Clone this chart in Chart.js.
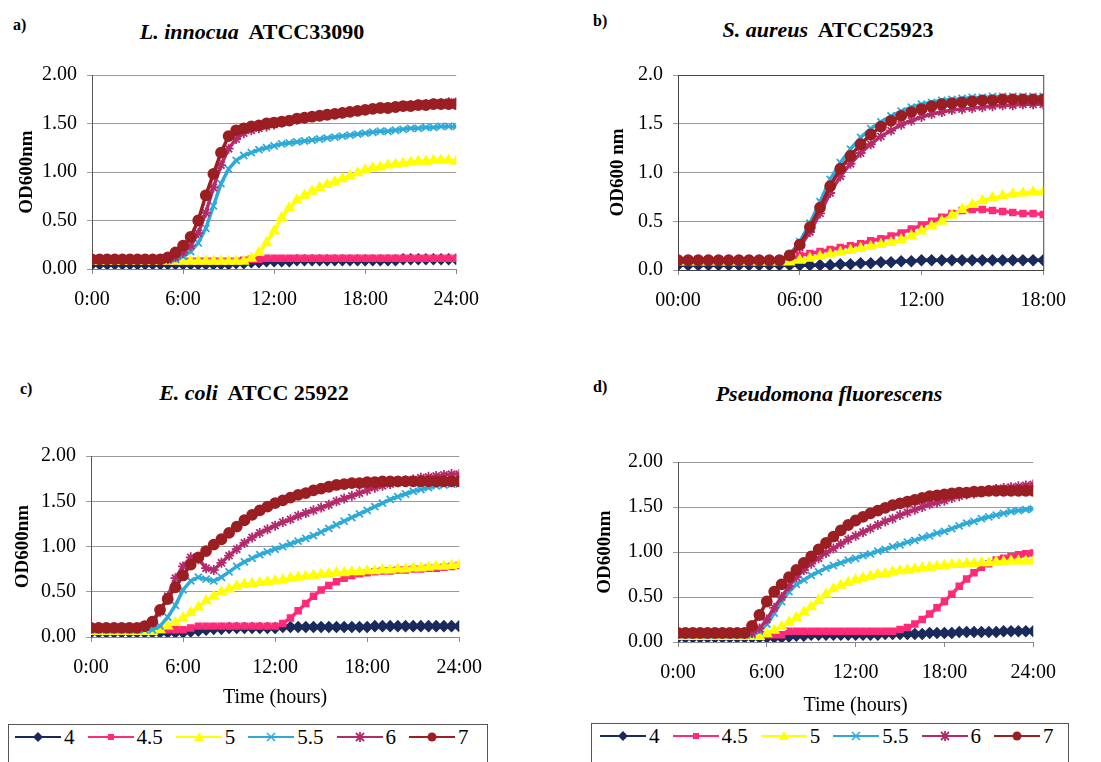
<!DOCTYPE html>
<html>
<head>
<meta charset="utf-8">
<script src="https://cdn.jsdelivr.net/npm/chart.js@4.4.1/dist/chart.umd.min.js"></script>
<style>
  html, body { margin: 0; padding: 0; background: #fff; }
  #page { position: relative; width: 1101px; height: 762px; overflow: hidden; font-family: 'Liberation Serif', 'Times New Roman', serif; color: #000; }
  canvas { position: absolute; }
  .tag { position: absolute; font-weight: bold; font-size: 16px; }
  .ttl { position: absolute; font-weight: bold; font-size: 22px; transform: translateX(-50%); white-space: nowrap; }
  .legend { position: absolute; height: 50px; border: 1px solid #555; border-bottom: none; display: flex; align-items: flex-start;
            font-family: 'Liberation Serif', 'Times New Roman', serif; font-size: 21px; line-height: 22px; padding-top: 1px; box-sizing: border-box; }
  .legend .item { display: flex; align-items: center; height: 22px; margin-right: 13px; }
  .legend svg { margin-right: 3px; }
</style>
</head>
<body>
<div id="page">
  <div class="tag" style="left:13px; top:16px;">a)</div>
  <div class="ttl" style="left:252px; top:19px;"><i>L. innocua</i>&nbsp; ATCC33090</div>
  <div class="tag" style="left:593px; top:12px;">b)</div>
  <div class="ttl" style="left:828px; top:17px;"><i>S. aureus</i>&nbsp; ATCC25923</div>
  <div class="tag" style="left:20px; top:380px;">c)</div>
  <div class="ttl" style="left:254px; top:380px;"><i>E. coli</i>&nbsp; ATCC 25922</div>
  <div class="tag" style="left:593px; top:378px;">d)</div>
  <div class="ttl" style="left:829px; top:381px;"><i>Pseudomona fluorescens</i></div>

  <canvas id="chartA" width="493" height="261" style="left:0px; top:53px;"></canvas>
  <canvas id="chartB" width="494" height="262" style="left:586px; top:53px;"></canvas>
  <canvas id="chartC" width="497" height="281" style="left:-1px; top:434px;"></canvas>
  <canvas id="chartD" width="484" height="280" style="left:586px; top:440px;"></canvas>

  <div class="legend" id="legendC" style="left:8px; top:724px; width:480px; padding-left:6px;"></div>
  <div class="legend" id="legendD" style="left:591px; top:723px; width:478px; padding-left:8px;"></div>
</div>

<script>
// pH of the growth medium, one series per pH.
const phLabels = ['4', '4.5', '5', '5.5', '6', '7'];
const phColours = ['#1B2A5C', '#FF2A78', '#FFFF00', '#2EAAD8', '#B32B6C', '#9A1E22'];
const phMarkers = ['rectRot', 'rect', 'triangle', 'crossRot', 'star', 'circle'];

// Sampling times (hours).
const hours24 = [0, 0.5, 1, 1.5, 2, 2.5, 3, 3.5, 4, 4.5, 5, 5.5, 6, 6.5, 7, 7.5, 8, 8.5, 9, 9.5,
  10, 10.5, 11, 11.5, 12, 12.5, 13, 13.5, 14, 14.5, 15, 15.5, 16, 16.5, 17, 17.5, 18, 18.5, 19, 19.5,
  20, 20.5, 21, 21.5, 22, 22.5, 23, 23.5, 24];
const hours18 = [0, 0.5, 1, 1.5, 2, 2.5, 3, 3.5, 4, 4.5, 5, 5.5, 6, 6.5, 7, 7.5, 8, 8.5, 9, 9.5,
  10, 10.5, 11, 11.5, 12, 12.5, 13, 13.5, 14, 14.5, 15, 15.5, 16, 16.5, 17, 17.5, 18];

// Tick labels.
const ticks24 = ['0:00', '6:00', '12:00', '18:00', '24:00'];
const ticks18 = ['00:00', '06:00', '12:00', '18:00'];

// a) L. innocua ATCC33090
const a4 = [0.05, 0.05, 0.05, 0.05, 0.05, 0.05, 0.05, 0.05, 0.05, 0.05, 0.05, 0.05, 0.05, 0.05, 0.05, 0.05, 0.05, 0.05, 0.05,
  0.06, 0.06, 0.07, 0.07, 0.08, 0.08, 0.08, 0.08, 0.09, 0.09, 0.09, 0.09,
  0.09, 0.09, 0.09, 0.09, 0.09, 0.09, 0.09, 0.09, 0.09, 0.09, 0.10, 0.10, 0.10, 0.10, 0.10, 0.10, 0.10, 0.10];
const a45 = [0.08, 0.08, 0.08, 0.08, 0.08, 0.08, 0.08, 0.08, 0.08, 0.08, 0.08, 0.08, 0.08, 0.08, 0.08, 0.08, 0.08, 0.08, 0.08, 0.08,
  0.09, 0.10, 0.10, 0.11, 0.11, 0.11, 0.11, 0.11, 0.11, 0.11, 0.11, 0.11, 0.11, 0.11, 0.11, 0.11, 0.11, 0.11, 0.11, 0.11,
  0.11, 0.11, 0.11, 0.11, 0.11, 0.11, 0.11, 0.11, 0.11];
const a5 = [0.08, 0.08, 0.08, 0.08, 0.08, 0.08, 0.08, 0.08, 0.08, 0.08, 0.08, 0.08, 0.08, 0.08, 0.08, 0.08, 0.08, 0.08, 0.08, 0.08, 0.08,
  0.11, 0.17, 0.27, 0.39, 0.53, 0.63, 0.71, 0.76, 0.80, 0.84, 0.87, 0.90, 0.93, 0.96, 0.99, 1.02, 1.04, 1.05, 1.07,
  1.08, 1.09, 1.10, 1.11, 1.11, 1.12, 1.12, 1.12, 1.11];
const a55 = [0.09, 0.09, 0.09, 0.09, 0.09, 0.09, 0.09, 0.09, 0.09, 0.09, 0.09,
  0.10, 0.13, 0.18, 0.27, 0.42, 0.65, 0.88, 1.03, 1.12, 1.17, 1.20, 1.23, 1.25, 1.27, 1.29, 1.30, 1.31, 1.32, 1.33,
  1.34, 1.35, 1.36, 1.37, 1.38, 1.39, 1.40, 1.41, 1.42, 1.42, 1.43, 1.44, 1.45, 1.45, 1.46, 1.46, 1.47, 1.47, 1.47];
const a6 = [0.10, 0.10, 0.10, 0.10, 0.10, 0.10, 0.10, 0.10, 0.10, 0.10, 0.10,
  0.12, 0.17, 0.24, 0.37, 0.58, 0.84, 1.07, 1.24, 1.34, 1.40, 1.43, 1.45, 1.47, 1.49, 1.51, 1.53, 1.54, 1.55, 1.57,
  1.58, 1.59, 1.60, 1.61, 1.62, 1.63, 1.64, 1.65, 1.66, 1.67, 1.67, 1.68, 1.69, 1.70, 1.70, 1.71, 1.71, 1.72, 1.72];
const a7 = [0.10, 0.10, 0.10, 0.10, 0.10, 0.10, 0.10, 0.10, 0.10, 0.10,
  0.12, 0.17, 0.24, 0.33, 0.50, 0.76, 0.98, 1.20, 1.37, 1.43, 1.45, 1.47, 1.48, 1.50, 1.51, 1.52, 1.53, 1.55, 1.56, 1.57,
  1.58, 1.59, 1.60, 1.61, 1.62, 1.63, 1.64, 1.65, 1.66, 1.66, 1.67, 1.68, 1.68, 1.69, 1.69, 1.70, 1.70, 1.70, 1.70];

// b) S. aureus ATCC25923
const b4 = [0.05, 0.05, 0.05, 0.05, 0.05, 0.05, 0.05, 0.05, 0.05, 0.05, 0.05, 0.05, 0.05, 0.05, 0.05,
  0.05, 0.06, 0.06, 0.07, 0.07, 0.08, 0.08, 0.09, 0.09,
  0.10, 0.10, 0.10, 0.10, 0.10, 0.10, 0.10, 0.10, 0.10, 0.10, 0.10, 0.10, 0.10];
const b45 = [0.10, 0.10, 0.10, 0.10, 0.10, 0.10, 0.10, 0.10, 0.10, 0.10, 0.10, 0.10,
  0.15, 0.17, 0.19, 0.21, 0.23, 0.25, 0.27, 0.30, 0.32, 0.35, 0.38, 0.42, 0.46, 0.50, 0.54, 0.58, 0.61, 0.62, 0.62,
  0.61, 0.60, 0.59, 0.58, 0.58, 0.57];
const b5 = [0.08, 0.08, 0.08, 0.08, 0.08, 0.08, 0.08, 0.08, 0.08, 0.08, 0.08, 0.08,
  0.10, 0.12, 0.14, 0.16, 0.18, 0.20, 0.22, 0.24, 0.26, 0.28, 0.31, 0.35, 0.40, 0.45, 0.50, 0.56, 0.62, 0.67, 0.71,
  0.74, 0.76, 0.78, 0.79, 0.80, 0.80];
const b55 = [0.10, 0.10, 0.10, 0.10, 0.10, 0.10, 0.10, 0.10, 0.10, 0.10, 0.10,
  0.16, 0.29, 0.48, 0.70, 0.93, 1.10, 1.24, 1.36, 1.45, 1.52, 1.58, 1.63, 1.67, 1.70, 1.72, 1.74, 1.75, 1.76, 1.77,
  1.77, 1.78, 1.78, 1.78, 1.78, 1.78, 1.78];
const b6 = [0.10, 0.10, 0.10, 0.10, 0.10, 0.10, 0.10, 0.10, 0.10, 0.10, 0.10,
  0.14, 0.23, 0.39, 0.58, 0.79, 0.96, 1.09, 1.20, 1.29, 1.37, 1.43, 1.49, 1.53, 1.57, 1.60, 1.62, 1.64, 1.65, 1.66,
  1.67, 1.68, 1.69, 1.69, 1.70, 1.70, 1.70];
const b7 = [0.10, 0.10, 0.10, 0.10, 0.10, 0.10, 0.10, 0.10, 0.10, 0.10, 0.10,
  0.15, 0.26, 0.44, 0.64, 0.86, 1.04, 1.17, 1.29, 1.39, 1.47, 1.53, 1.58, 1.62, 1.65, 1.68, 1.70, 1.71, 1.72, 1.73,
  1.74, 1.74, 1.75, 1.75, 1.75, 1.75, 1.75];

// c) E. coli ATCC 25922
const c4 = [0.05, 0.05, 0.05, 0.05, 0.05, 0.05, 0.05, 0.05, 0.05, 0.05, 0.05, 0.05, 0.05,
  0.06, 0.07, 0.08, 0.09, 0.09, 0.10, 0.10, 0.10, 0.10, 0.10, 0.10, 0.10,
  0.11, 0.11, 0.11, 0.11, 0.11, 0.11, 0.11, 0.11, 0.11, 0.11, 0.11, 0.11,
  0.12, 0.12, 0.12, 0.12, 0.12, 0.12, 0.12, 0.12, 0.12, 0.12, 0.12, 0.12];
const c45 = [0.08, 0.08, 0.08, 0.08, 0.08, 0.08, 0.08, 0.08, 0.08, 0.08, 0.08, 0.08, 0.08,
  0.10, 0.12, 0.12, 0.12, 0.12, 0.12, 0.12, 0.12, 0.12, 0.12, 0.12, 0.12,
  0.15, 0.21, 0.29, 0.37, 0.45, 0.52, 0.57, 0.61, 0.65, 0.68, 0.70, 0.71, 0.72, 0.73, 0.73,
  0.74, 0.74, 0.75, 0.75, 0.76, 0.76, 0.77, 0.78, 0.79];
const c5 = [0.06, 0.06, 0.06, 0.06, 0.06, 0.06, 0.06, 0.06, 0.06,
  0.08, 0.12, 0.16, 0.21, 0.27, 0.33, 0.40, 0.45, 0.50, 0.53, 0.56, 0.58, 0.59, 0.60, 0.61, 0.62, 0.63, 0.65, 0.66, 0.67,
  0.68, 0.69, 0.70, 0.71, 0.71, 0.72, 0.72, 0.73, 0.73, 0.74, 0.74, 0.75, 0.75, 0.76, 0.76, 0.77, 0.78, 0.78, 0.79, 0.80];
const c55 = [0.08, 0.08, 0.08, 0.08, 0.08, 0.08, 0.08, 0.08, 0.08,
  0.12, 0.22, 0.35, 0.52, 0.62, 0.66, 0.64, 0.62, 0.66, 0.72, 0.78, 0.83, 0.87, 0.91, 0.94, 0.97, 1.00, 1.03, 1.06, 1.09,
  1.12, 1.16, 1.20, 1.24, 1.28, 1.32, 1.36, 1.40, 1.44, 1.48, 1.52, 1.55, 1.58, 1.61, 1.63, 1.65, 1.67, 1.68, 1.69, 1.69];
const c6 = [0.10, 0.10, 0.10, 0.10, 0.10, 0.10, 0.10,
  0.11, 0.16, 0.28, 0.45, 0.65, 0.78, 0.88, 0.86, 0.76, 0.74, 0.82, 0.90, 0.97, 1.04, 1.10, 1.15, 1.19, 1.23, 1.27, 1.30,
  1.34, 1.37, 1.40, 1.43, 1.46, 1.50, 1.53, 1.56, 1.59, 1.62, 1.65, 1.67, 1.69, 1.71, 1.73, 1.74, 1.76, 1.77, 1.78, 1.79,
  1.80, 1.80];
const c7 = [0.10, 0.10, 0.10, 0.10, 0.10, 0.10, 0.10,
  0.12, 0.17, 0.30, 0.42, 0.55, 0.68, 0.80, 0.88, 0.95, 1.02, 1.08, 1.15, 1.22, 1.29, 1.35, 1.40, 1.44, 1.48, 1.51, 1.54,
  1.57, 1.59, 1.62, 1.64, 1.66, 1.68, 1.69, 1.70, 1.70, 1.71, 1.71, 1.72, 1.72, 1.72, 1.72, 1.72, 1.72, 1.72, 1.72, 1.72,
  1.72, 1.72];

// d) Pseudomona fluorescens
const d4 = [0.05, 0.05, 0.05, 0.05, 0.05, 0.05, 0.05, 0.05, 0.05, 0.05, 0.05, 0.05, 0.05, 0.05, 0.05,
  0.06, 0.07, 0.07, 0.08, 0.08, 0.08, 0.08, 0.08, 0.08, 0.08, 0.08, 0.08, 0.08,
  0.09, 0.09, 0.09, 0.09, 0.09, 0.09, 0.10, 0.10, 0.10, 0.10,
  0.11, 0.11, 0.11, 0.11, 0.11, 0.11, 0.12, 0.12, 0.12, 0.12, 0.12];
const d45 = [0.08, 0.08, 0.08, 0.08, 0.08, 0.08, 0.08, 0.08, 0.08, 0.08, 0.08, 0.08, 0.08, 0.08, 0.08,
  0.12, 0.12, 0.12, 0.12, 0.12, 0.12, 0.12, 0.12, 0.12, 0.12, 0.12, 0.12, 0.12, 0.12, 0.12,
  0.14, 0.16, 0.20, 0.25, 0.31, 0.38, 0.45, 0.53, 0.62, 0.70, 0.77, 0.83, 0.87, 0.91, 0.93, 0.95, 0.97, 0.98, 0.99];
const d5 = [0.06, 0.06, 0.06, 0.06, 0.06, 0.06, 0.06, 0.06, 0.06, 0.06, 0.06, 0.06,
  0.09, 0.13, 0.17, 0.22, 0.27, 0.33, 0.39, 0.46, 0.53, 0.59, 0.63, 0.66, 0.69, 0.71, 0.73, 0.75, 0.76, 0.78, 0.79,
  0.80, 0.81, 0.82, 0.83, 0.84, 0.85, 0.86, 0.86, 0.87, 0.87, 0.88, 0.88, 0.89, 0.89, 0.90, 0.90, 0.90, 0.90];
const d55 = [0.08, 0.08, 0.08, 0.08, 0.08, 0.08, 0.08, 0.08, 0.08, 0.08, 0.08,
  0.12, 0.20, 0.32, 0.45, 0.56, 0.64, 0.69, 0.74, 0.78, 0.82, 0.85, 0.88, 0.91, 0.93, 0.96, 0.98, 1.01, 1.03, 1.06,
  1.08, 1.11, 1.13, 1.16, 1.18, 1.21, 1.23, 1.26, 1.29, 1.32, 1.34, 1.37, 1.39, 1.41, 1.43, 1.45, 1.46, 1.47, 1.48];
const d6 = [0.10, 0.10, 0.10, 0.10, 0.10, 0.10, 0.10, 0.10, 0.10, 0.10, 0.10,
  0.15, 0.25, 0.38, 0.50, 0.62, 0.72, 0.80, 0.87, 0.93, 0.99, 1.04, 1.09, 1.14, 1.18, 1.22, 1.26, 1.30, 1.34, 1.37,
  1.41, 1.44, 1.47, 1.50, 1.53, 1.55, 1.57, 1.60, 1.62, 1.64, 1.65, 1.67, 1.68, 1.70, 1.71, 1.72, 1.73, 1.74, 1.75];
const d7 = [0.10, 0.10, 0.10, 0.10, 0.10, 0.10, 0.10, 0.10, 0.10, 0.10,
  0.18, 0.30, 0.45, 0.56, 0.64, 0.72, 0.80, 0.88, 0.95, 1.03, 1.10, 1.17, 1.24, 1.30, 1.35, 1.39, 1.43, 1.46, 1.49, 1.52,
  1.54, 1.56, 1.58, 1.60, 1.62, 1.63, 1.64, 1.65, 1.66, 1.66, 1.67, 1.67, 1.68, 1.68, 1.68, 1.68, 1.68, 1.68, 1.68];

const serif = "'Liberation Serif', 'Times New Roman', serif";

// Box round the plot area (only panel b has one).
const framePlugin = {
  id: 'frame',
  beforeDatasetsDraw(chart, args, opts) {
    if (!opts.show) return;
    let a = chart.chartArea, ctx = chart.ctx;
    ctx.save();
    ctx.strokeStyle = '#444';
    ctx.lineWidth = 1;
    ctx.strokeRect(a.left + 0.5, a.top + 0.5, a.right - a.left, a.bottom - a.top);
    ctx.restore();
  }
};

function makePanel(id, hours, series, o) {
  let datasets = [];
  for (let i = 0; i < series.length; i++) {
    datasets.push({
      label: phLabels[i],
      data: hours.map((h, j) => ({ x: h, y: series[i][j] })),
      borderColor: phColours[i],
      backgroundColor: phColours[i],
      pointBackgroundColor: phColours[i],
      pointBorderColor: phColours[i],
      pointStyle: phMarkers[i],
      pointRadius: phMarkers[i] == 'rect' ? 4 : 5,
      pointBorderWidth: 1.8,
      borderWidth: 3.5,
      order: series.length - 1 - i   // later pH drawn on top, as in the original
    });
  }

  let xScale = {
    type: 'linear', min: 0, max: hours[hours.length - 1],
    ticks: {
      stepSize: 6, autoSkip: false, maxRotation: 0, padding: 14, color: '#000',
      font: { family: serif, size: 20 },
      callback: v => o.tickLabels[Math.round(v / 6)]
    },
    grid: { drawOnChartArea: false, tickLength: 5, color: '#888' },
    border: { color: '#888' },
    afterFit: s => { s.height = o.xHeight; }
  };
  if (o.xTitle) {
    xScale.title = { display: true, text: o.xTitle, color: '#000',
      font: { family: serif, size: 20 }, padding: { top: 0, bottom: o.xTitlePad } };
  }

  return new Chart(document.getElementById(id), {
    type: 'line',
    data: { datasets: datasets },
    plugins: [framePlugin],
    options: {
      responsive: false,
      animation: false,
      devicePixelRatio: 1,
      layout: { padding: { left: 0, right: 30, top: 15, bottom: 0 } },
      scales: {
        x: xScale,
        y: {
          min: 0, max: 2,
          ticks: {
            stepSize: 0.5, padding: 10, color: '#000',
            font: { family: serif, size: 20 },
            callback: v => v.toFixed(o.decimals)
          },
          grid: { color: '#9A9A9A', tickLength: 5 },
          border: { color: '#555' },
          title: { display: true, text: o.yTitle, color: '#000',
            font: { family: serif, size: 19, weight: 'bold' }, padding: { top: o.yTitlePad, bottom: 0 } },
          afterFit: s => { s.width = 92; }
        }
      },
      plugins: {
        legend: { display: false },
        tooltip: { enabled: false },
        frame: { show: !!o.frame }
      }
    }
  });
}

// Legend rows under panels c and d, drawn as HTML.
function markerSVG(style, col) {
  let cx = 23, cy = 11;
  if (style == 'rectRot') return '<polygon points="' + cx + ',' + (cy - 5) + ' ' + (cx + 5) + ',' + cy + ' ' + cx + ',' + (cy + 5) + ' ' + (cx - 5) + ',' + cy + '" fill="' + col + '"/>';
  if (style == 'rect') return '<rect x="' + (cx - 3) + '" y="' + (cy - 3) + '" width="6" height="6" fill="' + col + '"/>';
  if (style == 'triangle') return '<polygon points="' + cx + ',' + (cy - 5) + ' ' + (cx + 5) + ',' + (cy + 4) + ' ' + (cx - 5) + ',' + (cy + 4) + '" fill="' + col + '"/>';
  if (style == 'crossRot') return '<path d="M' + (cx - 4) + ' ' + (cy - 4) + 'L' + (cx + 4) + ' ' + (cy + 4) + 'M' + (cx + 4) + ' ' + (cy - 4) + 'L' + (cx - 4) + ' ' + (cy + 4) + '" stroke="' + col + '" stroke-width="1.5"/>';
  if (style == 'star') return '<path d="M' + (cx - 4) + ' ' + (cy - 4) + 'L' + (cx + 4) + ' ' + (cy + 4) + 'M' + (cx + 4) + ' ' + (cy - 4) + 'L' + (cx - 4) + ' ' + (cy + 4) + 'M' + cx + ' ' + (cy - 5) + 'L' + cx + ' ' + (cy + 5) + '" stroke="' + col + '" stroke-width="1.8"/>';
  return '<circle cx="' + cx + '" cy="' + cy + '" r="4.5" fill="' + col + '"/>';
}

function legendHTML() {
  let html = '';
  for (let i = 0; i < phLabels.length; i++) {
    html += '<span class="item"><svg width="46" height="22">';
    html += '<line x1="0" y1="11" x2="46" y2="11" stroke="' + phColours[i] + '" stroke-width="2"/>';
    html += markerSVG(phMarkers[i], phColours[i]);
    html += '</svg>' + phLabels[i] + '</span>';
  }
  return html;
}

makePanel('chartA', hours24, [a4, a45, a5, a55, a6, a7],
  { tickLabels: ticks24, decimals: 2, yTitle: 'OD600nm', yTitlePad: 16, xHeight: 45 });
makePanel('chartB', hours18, [b4, b45, b5, b55, b6, b7],
  { tickLabels: ticks18, decimals: 1, yTitle: 'OD600 nm', yTitlePad: 21, xHeight: 45, frame: true });
makePanel('chartC', hours24, [c4, c45, c5, c55, c6, c7],
  { tickLabels: ticks24, decimals: 2, yTitle: 'OD600nm', yTitlePad: 13, xHeight: 78, xTitle: 'Time (hours)', xTitlePad: 5 });
makePanel('chartD', hours24, [d4, d45, d5, d55, d6, d7],
  { tickLabels: ticks24, decimals: 2, yTitle: 'OD600nm', yTitlePad: 8, xHeight: 78, xTitle: 'Time (hours)', xTitlePad: 2 });

document.getElementById('legendC').innerHTML = legendHTML();
document.getElementById('legendD').innerHTML = legendHTML();
</script>
</body>
</html>
